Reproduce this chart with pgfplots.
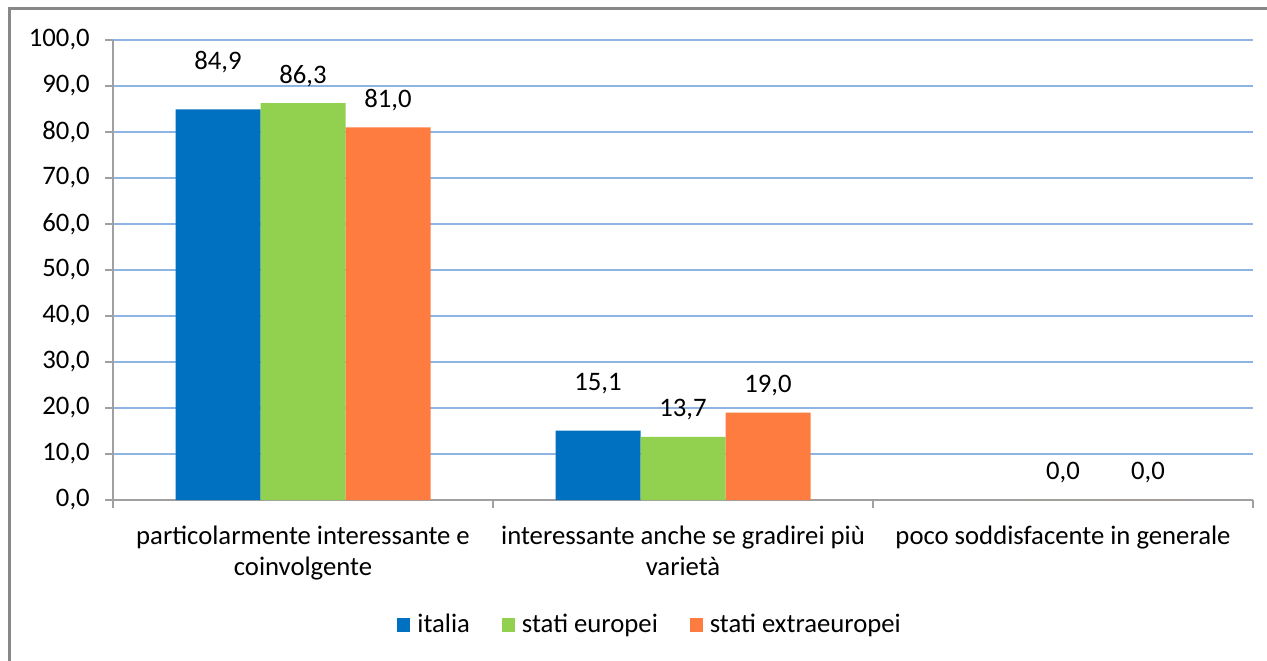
\documentclass[border=0pt]{standalone}
\usepackage{pgfplots}
\pgfplotsset{compat=1.18}
\usepackage{fontspec}
\setmainfont{Carlito}

\definecolor{cIt}{RGB}{0,112,192}
\definecolor{cEu}{RGB}{146,208,80}
\definecolor{cEx}{RGB}{255,124,65}
\definecolor{gridblue}{RGB}{142,180,227}
\definecolor{axisgray}{RGB}{160,160,160}
\definecolor{framegray}{RGB}{136,136,136}

\begin{document}
\fontsize{13.4}{15.2}\selectfont
\begin{tikzpicture}
    % page = 1267x661 px, 1 px = 0.5bp; plot box at origin
    \useasboundingbox (-56.5bp,-80.5bp) rectangle (577bp,250bp);
    \draw[framegray, line width=1.5bp] (-51.5bp,-100bp) -- (-51.5bp,245.5bp) -- (620bp,245.5bp);
    \begin{axis}[
        scale only axis,
        width=570bp,
        height=230bp,
        ybar=0pt,
        bar width=42.5bp,
        xmin=-0.5, xmax=2.5,
        ymin=0, ymax=100,
        xtick={0,1,2},
        xticklabels={
            {particolarmente interessante e\\coinvolgente},
            {interessante anche se gradirei più\\varietà},
            {poco soddisfacente in generale}
        },
        xticklabel style={align=center, anchor=north, yshift=-4.5bp},
        major x tick style={draw=none},
        minor xtick={-0.5,0.5,1.5,2.5},
        ytick={0,10,...,100},
        yticklabel style={xshift=-3bp},
        /pgf/number format/assume math mode=true,
        yticklabel={\pgfmathprintnumber[fixed,fixed zerofill,precision=1,use comma]{\tick}},
        axis x line*=bottom,
        axis y line*=left,
        axis line style={draw=axisgray, line width=0.8bp, -},
        tick align=outside,
        tick style={draw=axisgray, line width=0.8bp},
        major tick length=4bp,
        minor tick length=4bp,
        ymajorgrids=true,
        grid style={draw=gridblue, line width=0.8bp},
        nodes near coords={\pgfmathprintnumber[fixed,fixed zerofill,precision=1,use comma]{\pgfplotspointmeta}},
        every node near coord/.append style={anchor=center, text=black},
        legend style={
            at={(0.472,-0.2717)}, anchor=center,
            draw=none, fill=none,
            legend columns=3,
            /tikz/every odd column/.append style={column sep=1.5bp},
            /tikz/every even column/.append style={column sep=14bp}
        },
        legend image code/.code={\fill[#1] (0bp,-3.3bp) rectangle (6.5bp,3.3bp);},
        clip=false
    ]
        \addplot[fill=cIt, draw=none, every node near coord/.append style={yshift=23.5bp}]
            coordinates {(0,84.9) (1,15.1)};
        \addplot[fill=cEu, draw=none, every node near coord/.append style={yshift=13.5bp}]
            coordinates {(0,86.3) (1,13.7) (2,0.0)};
        \addplot[fill=cEx, draw=none, every node near coord/.append style={yshift=13.5bp}]
            coordinates {(0,81.0) (1,19.0) (2,0.0)};
        \legend{italia, stati europei, stati extraeuropei}
    \end{axis}
\end{tikzpicture}
\end{document}
